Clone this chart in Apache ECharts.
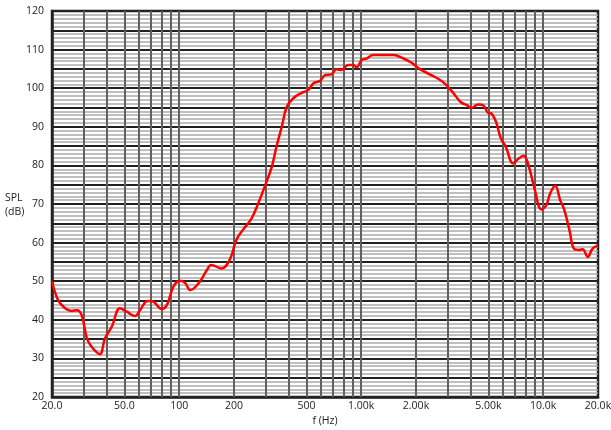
<!DOCTYPE html>
<html>
<head>
<meta charset="utf-8">
<script src="https://cdn.jsdelivr.net/npm/echarts@6/dist/echarts.min.js"></script>
<style>
html,body{margin:0;padding:0;background:#fff;}
#chart{width:611px;height:430px;}
</style>
</head>
<body>
<div id="chart"></div>
<script>
// Frequency (Hz) of each sampled point of the response curve
const freqHz = [20, 21.6, 23.6, 25.6, 27.4, 29.1, 31.1, 33.0, 36.6, 39.1, 42.6, 47.3, 51.5, 57.1, 60.9, 67.1, 72.0, 80.0, 85.5, 92.9,
  101, 108, 115, 128, 142, 150, 171, 190, 206, 224, 250, 272, 297, 323, 342, 366, 390, 424, 471, 511,
  547, 594, 633, 687, 730, 778, 847, 903, 944, 1005, 1070, 1164, 1323, 1503, 1708, 1892, 2090, 2426, 2796, 3163,
  3504, 3803, 4040, 4385, 4664, 4960, 5170, 5500, 5850, 6230, 6840, 7330, 7800, 8290, 9000, 9770, 10400, 10930, 11640, 12390,
  13070, 13930, 14820, 15780, 16470, 17560, 18700, 20000];
// SPL (dB) at each frequency
const splDb = [50.0, 45.1, 43.0, 42.3, 42.5, 41.2, 35.2, 33.0, 31.1, 35.2, 38.2, 43.0, 42.1, 41.0, 42.5, 44.9, 44.7, 42.8, 43.8, 48.6,
  50.1, 49.5, 47.7, 49.5, 52.9, 54.2, 53.3, 55.7, 60.7, 63.3, 66.3, 70.2, 74.9, 79.7, 84.8, 90.0, 95.2, 97.4, 98.8, 99.5,
  101.3, 101.9, 103.4, 103.6, 104.9, 104.7, 106.0, 106.0, 105.4, 107.3, 107.7, 108.6, 108.6, 108.6, 107.7, 106.6, 105.0, 103.4, 101.7, 99.1,
  96.5, 95.6, 94.9, 95.8, 95.6, 93.7, 93.5, 91.3, 87.0, 84.8, 80.5, 81.8, 82.5, 80.1, 73.6, 68.6, 69.7, 72.8, 74.7, 71.0,
  68.4, 63.3, 58.3, 58.1, 58.3, 56.3, 58.5, 59.2];
// Vertical grid line frequencies
const gridFreqs = [30, 40, 50, 60, 70, 80, 90, 100, 200, 300, 400, 500, 600, 700, 800, 900,
  1000, 2000, 3000, 4000, 5000, 6000, 7000, 8000, 9000, 10000];
// Frequency tick labels
const xTickValues = [20, 50, 100, 200, 500, 1000, 2000, 5000, 10000, 20000];
const xTickLabels = ['20.0', '50.0', '100', '200', '500', '1.00k', '2.00k', '5.00k', '10.0k', '20.0k'];

const FONT = '"Open Sans", "Noto Sans", sans-serif';
const chart = echarts.init(document.getElementById('chart'), null, {renderer: 'canvas'});

const gridLineData = gridFreqs.map(f => ({xAxis: f}));
const labelData = xTickValues.map((f, i) => ({
  xAxis: f,
  lineStyle: {color: 'rgba(0,0,0,0)', width: 0},
  label: {show: true, position: 'start', distance: 4, formatter: xTickLabels[i],
    color: '#222', fontSize: 10.5, fontFamily: FONT}
}));

chart.setOption({
  animation: false,
  backgroundColor: '#fff',
  grid: {left: 52, right: 13, top: 11, bottom: 33, show: true, borderColor: '#222', borderWidth: 2.5, outerBoundsMode: 'none'},
  xAxis: {
    type: 'log', logBase: 10, min: 20, max: 20000,
    axisLabel: {show: false}, axisTick: {show: false}, splitLine: {show: false},
    axisLine: {show: true, lineStyle: {color: '#222', width: 2.5}},
    name: 'f (Hz)', nameLocation: 'middle', nameGap: 19,
    nameTextStyle: {color: '#222', fontSize: 10.5, fontFamily: FONT}
  },
  yAxis: {
    type: 'value', min: 20, max: 120, interval: 5,
    axisLine: {show: true, lineStyle: {color: '#222', width: 2.5}},
    axisTick: {show: false},
    axisLabel: {color: '#222', fontSize: 10.5, fontFamily: FONT, margin: 8,
      formatter: v => (v % 10 === 0 ? String(v) : '')},
    splitLine: {show: true, lineStyle: {color: '#222', width: 2}},
    minorTick: {show: false, splitNumber: 5},
    minorSplitLine: {show: true, lineStyle: {color: '#aaaaaa', width: 1.5}}
  },
  graphic: [{
    type: 'text', left: 5, top: 191,
    style: {text: 'SPL\n(dB)', fill: '#222', fontSize: 10.5, fontFamily: FONT, lineHeight: 14, align: 'left'}
  }],
  series: [
    {
      type: 'line', data: [], z: 1, silent: true,
      markLine: {
        silent: true, symbol: ['none', 'none'], animation: false,
        lineStyle: {color: '#606060', width: 2, type: 'solid'},
        label: {show: false},
        data: gridLineData
      }
    },
    {
      type: 'line', data: [], z: 1, silent: true,
      markLine: {
        silent: true, symbol: ['none', 'none'], animation: false,
        lineStyle: {color: 'rgba(0,0,0,0)', width: 0},
        label: {show: true},
        data: labelData
      }
    },
    {
      type: 'line', z: 5,
      data: freqHz.map((f, i) => [f, splDb[i]]),
      showSymbol: false, smooth: 0.4,
      lineStyle: {color: '#ff0000', width: 2.5}
    }
  ]
});
</script>
</body>
</html>
